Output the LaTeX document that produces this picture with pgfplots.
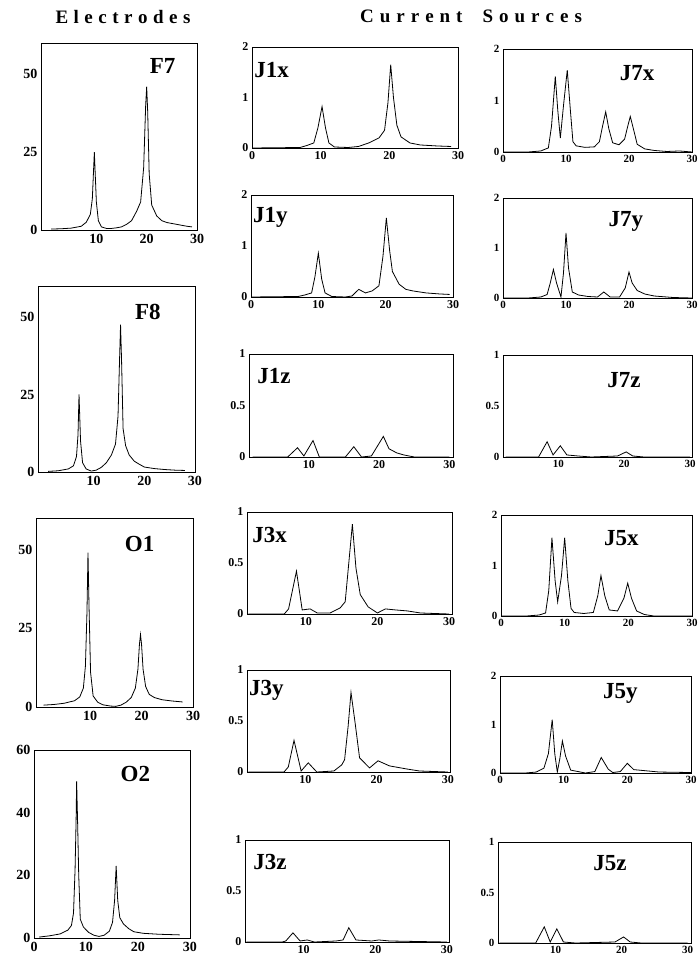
\documentclass[border=0pt]{standalone}
\usepackage{pgfplots}
\pgfplotsset{compat=1.18}
\usepackage{fontspec}
\setmainfont{Liberation Serif}
\tikzset{
  cur/.style={black, line width=0.8pt, mark=none},
  plab/.style={font=\bfseries\fontsize{23}{23}\selectfont, inner sep=0pt},
}
\pgfplotsset{
  base/.style={scale only axis, anchor=south west, clip=true,
    axis line style={line width=0.7pt},
    major tick length=0pt, tick style={draw=none},
    /pgf/number format/assume math mode=true},
  elec/.style={base, ymin=0, ymax=60, xmin=-1, xmax=30,
    xtick={10,20,30}, ytick={0,25,50},
    tick label style={font=\bfseries\fontsize{14}{14}\selectfont},
    xticklabel style={yshift=-1pt}},
  srcA/.style={base, ymin=0, ymax=2, xmin=0, xmax=30,
    xtick={0,10,20,30}, ytick={0,1,2},
    tick label style={font=\bfseries\fontsize{12}{12}\selectfont}},
  srcB/.style={base, ymin=0, ymax=1, xmin=1.7, xmax=30.4,
    xtick={10,20,30}, ytick={0,0.5,1},
    tick label style={font=\bfseries\fontsize{12}{12}\selectfont}},
  rcol/.style={tick label style={font=\bfseries\fontsize{11}{11}\selectfont}},
}
\newcommand{\ttl}{\bfseries\fontsize{19}{19}\selectfont}
\begin{document}
\begin{tikzpicture}
\useasboundingbox (0pt,0pt) rectangle (699pt,-963pt);
\node[inner sep=0pt] at (123pt,-17pt) {\ttl E\kern5.5pt l\kern5.5pt e\kern5.5pt c\kern5.5pt t\kern5.5pt r\kern5.5pt o\kern5.5pt d\kern5.5pt e\kern5.5pt s};
\node[inner sep=0pt] at (471pt,-16pt) {\ttl C\kern6pt u\kern6pt r\kern6pt r\kern6pt e\kern6pt n\kern6pt t\kern20pt S\kern6pt o\kern6pt u\kern6pt r\kern6pt c\kern6pt e\kern6pt s};

% ---------------- Electrodes ----------------
\begin{axis}[elec, at={(41pt,-230pt)}, width=156pt, height=187pt]
\addplot[cur] coordinates {(1,0.3)(3,0.4)(5,0.6)(7,1.2)(8,2.5)(8.8,5)(9.2,10)(9.6,25)(10,9)(10.4,3)(11,1)(12,0.5)(13,0.5)(14,0.7)(15,1)(16,1.8)(17,3)(18,6)(18.8,9)(19.4,20)(19.8,40)(20,46)(20.2,38)(20.5,18)(21,8)(22,4.5)(23,3)(24,2.4)(26,1.8)(28,1.2)(29,1)};
\node[plab] at (rel axis cs:0.78,0.877) {F7};
\end{axis}

\begin{axis}[elec, at={(38pt,-472pt)}, width=157pt, height=186pt]
\addplot[cur] coordinates {(1,0.2)(3,0.4)(5,1)(6,2)(6.6,5)(6.9,12)(7.1,25)(7.4,10)(7.8,3)(8.5,1)(9.5,0.3)(10.5,0.6)(11.5,1.5)(12.5,3)(13.5,5.5)(14.3,9)(14.8,18)(15.1,36)(15.3,47.5)(15.5,36)(15.8,14)(16.3,8.5)(17,5.5)(18,3.5)(19,2.5)(20,1.6)(22,1.1)(24,0.8)(26,0.6)(28,0.5)};
\node[plab] at (rel axis cs:0.70,0.86) {F8};
\end{axis}

\begin{axis}[elec, at={(36pt,-707pt)}, width=157pt, height=189pt, xmin=-0.5]
\addplot[cur] coordinates {(1,0.6)(3,0.8)(5,1.2)(7,2)(8,3.2)(8.7,6)(9.1,13)(9.4,30)(9.6,49)(9.8,32)(10.1,11)(10.6,3.5)(11.5,1.5)(12.5,0.7)(14,0.3)(15,0.2)(16,0.6)(17,1.5)(18,3)(18.8,6)(19.3,12)(19.6,20)(19.8,23)(20,20)(20.3,12)(20.8,6.5)(21.5,4)(22.5,3)(24,2.3)(26,1.9)(28,1.6)};
\node[plab] at (rel axis cs:0.66,0.86) {O1};
\end{axis}

\begin{axis}[elec, at={(34pt,-938pt)}, width=156pt, height=188pt, xmin=0, xtick={0,10,20,30}, ytick={0,20,40,60}]
\addplot[cur] coordinates {(1,0.3)(3,0.7)(5,1.3)(6.5,2.5)(7.2,4)(7.6,8)(7.9,22)(8.1,38)(8.2,50)(8.4,36)(8.6,20)(8.9,6)(9.5,3.5)(10.5,1.8)(11.5,0.9)(12.5,0.5)(13.5,0.9)(14.5,2.2)(15.1,5)(15.5,12)(15.8,23)(16.1,12)(16.5,6.5)(17.2,4.5)(18.2,3)(19.2,2)(21,1.5)(24,1.2)(28,1)};
\node[plab] at (rel axis cs:0.65,0.87) {O2};
\end{axis}

% ---------------- Current sources: middle column ----------------
\begin{axis}[srcA, at={(252pt,-148pt)}, width=206pt, height=101pt]
\addplot[cur] coordinates {(0,0)(7,0.01)(8,0.05)(9,0.1)(9.6,0.4)(10.2,0.82)(10.7,0.4)(11.2,0.1)(12,0.02)(14,0.01)(15.5,0.03)(17,0.1)(18.5,0.2)(19.3,0.35)(19.8,0.9)(20.2,1.65)(20.6,1.0)(21.1,0.45)(21.7,0.22)(23,0.1)(24.5,0.06)(27,0.04)(29,0.03)};
\node[plab, anchor=west] at (rel axis cs:0.01,0.77) {J1x};
\end{axis}

\begin{axis}[srcA, at={(251pt,-297pt)}, width=202pt, height=102pt]
\addplot[cur] coordinates {(0,0)(7,0.01)(8,0.04)(9,0.08)(9.5,0.4)(10,0.86)(10.5,0.35)(11,0.08)(12,0.01)(14,0)(15,0.02)(16,0.15)(17,0.08)(18,0.12)(19,0.22)(19.6,0.8)(20.1,1.55)(20.6,0.9)(21,0.5)(22,0.25)(23,0.15)(24,0.12)(26,0.08)(28,0.06)(29.5,0.05)};
\node[plab, anchor=west] at (rel axis cs:0.01,0.78) {J1y};
\end{axis}

\begin{axis}[srcB, at={(249pt,-457pt)}, width=204pt, height=103pt, xmin=1.5, xmax=30.5]
\addplot[cur] coordinates {(2,0)(7,0)(8.4,0.09)(9.3,0.01)(10.6,0.16)(11.5,0)(15.2,0)(16.4,0.1)(17.5,0)(18.9,0.01)(20.6,0.2)(21.4,0.08)(22.5,0.04)(23.5,0.02)(25,0)(30,0)};
\node[plab, anchor=west] at (rel axis cs:0.04,0.79) {J1z};
\end{axis}

\begin{axis}[srcB, at={(247pt,-614pt)}, width=205pt, height=102pt, xmin=1.8, xmax=30.4]
\addplot[cur] coordinates {(2,0)(7,0)(7.6,0.05)(8.7,0.42)(9.5,0.04)(10.6,0.05)(11.6,0.01)(13.4,0.01)(14.8,0.06)(15.5,0.12)(16.0,0.5)(16.5,0.88)(17.0,0.45)(17.6,0.19)(18.7,0.07)(20,0.01)(21.1,0.05)(22.5,0.04)(24.2,0.03)(26,0.01)(30,0)};
\node[plab, anchor=west] at (rel axis cs:0.025,0.77) {J3x};
\end{axis}

\begin{axis}[srcB, at={(247pt,-772pt)}, width=203pt, height=102pt, xmin=1.8, xmax=30.3]
\addplot[cur] coordinates {(2,0)(7,0)(7.6,0.05)(8.4,0.31)(9.4,0.01)(10.4,0.09)(11.6,0)(14,0.01)(15.1,0.07)(15.5,0.12)(16,0.45)(16.4,0.78)(17,0.47)(17.6,0.14)(19,0.04)(20.2,0.11)(21.8,0.06)(24.2,0.03)(26,0.01)(30,0)};
\node[plab, anchor=west] at (rel axis cs:0.01,0.80) {J3y};
\end{axis}

\begin{axis}[srcB, at={(245pt,-942pt)}, width=204pt, height=102pt, xmin=1.8, xmax=30.3]
\addplot[cur] coordinates {(2,0)(7,0)(7.5,0.01)(8.5,0.09)(9.5,0.01)(10.5,0.02)(11.5,0)(14.5,0.01)(15.5,0.02)(16.3,0.14)(17.3,0.02)(19.5,0.01)(20.5,0.02)(22,0.01)(30,0)};
\node[plab, anchor=west] at (rel axis cs:0.04,0.78) {J3z};
\end{axis}

% ---------------- Current sources: right column ----------------
\begin{axis}[srcA, rcol, at={(503pt,-152pt)}, width=189pt, height=103pt]
\addplot[cur] coordinates {(0,0)(4,0)(6,0.02)(7.2,0.08)(7.7,0.5)(8.3,1.47)(8.7,0.8)(9.1,0.27)(9.6,0.9)(10.2,1.59)(10.7,0.8)(11.1,0.2)(11.6,0.12)(13,0.09)(14.5,0.1)(15.3,0.2)(15.8,0.5)(16.3,0.78)(16.8,0.45)(17.4,0.18)(18.4,0.14)(19.3,0.25)(19.8,0.5)(20.2,0.69)(20.7,0.45)(21.3,0.15)(22.5,0.06)(24,0.03)(26,0.01)(28,0.02)(30,0)};
\node[plab] at (rel axis cs:0.71,0.77) {J7x};
\end{axis}

\begin{axis}[srcA, rcol, at={(503pt,-298pt)}, width=189pt, height=100pt]
\addplot[cur] coordinates {(0,0)(4,0)(6,0.02)(7,0.07)(7.5,0.3)(8.0,0.57)(8.5,0.3)(9.2,0.02)(9.6,0.5)(10,1.3)(10.4,0.6)(11,0.12)(12,0.06)(13.5,0.03)(15,0.02)(16,0.12)(17,0.02)(18.5,0.02)(19.4,0.2)(20,0.52)(20.5,0.3)(21.3,0.15)(22.5,0.08)(24,0.04)(27,0.01)(30,0)};
\node[plab] at (rel axis cs:0.65,0.77) {J7y};
\end{axis}

\begin{axis}[srcB, rcol, at={(503pt,-457pt)}, width=189pt, height=102pt, xmin=1.6, xmax=30.3]
\addplot[cur] coordinates {(2,0)(7,0)(8.3,0.15)(9.2,0.02)(10.3,0.11)(11.3,0.02)(13,0.01)(15,0)(19,0.01)(20.3,0.05)(21.3,0.01)(23,0)(30,0)};
\node[plab] at (rel axis cs:0.64,0.75) {J7z};
\end{axis}

\begin{axis}[srcA, rcol, at={(501pt,-616pt)}, width=191pt, height=101pt]
\addplot[cur] coordinates {(0,0)(4,0)(6,0.02)(7,0.06)(7.5,0.5)(8.0,1.55)(8.5,0.7)(8.9,0.28)(9.5,0.8)(10,1.55)(10.5,0.7)(11,0.15)(11.5,0.07)(13,0.05)(14.5,0.07)(15.2,0.4)(15.7,0.8)(16.3,0.4)(17,0.12)(18.3,0.1)(19.3,0.35)(19.9,0.65)(20.5,0.35)(21.3,0.1)(22.5,0.03)(24,0)(30,0)};
\node[plab] at (rel axis cs:0.63,0.77) {J5x};
\end{axis}

\begin{axis}[srcA, rcol, at={(500pt,-773pt)}, width=191pt, height=97pt]
\addplot[cur] coordinates {(0,0)(4,0)(5.7,0.02)(6.9,0.1)(7.6,0.4)(8.2,1.1)(8.6,0.4)(9,0.02)(9.4,0.3)(9.8,0.66)(10.3,0.35)(11.1,0.06)(13.4,0)(14.9,0.03)(15.9,0.32)(17,0.08)(17.7,0.01)(18.9,0.03)(20,0.2)(21,0.07)(22.6,0.05)(25,0.02)(30,0.01)};
\node[plab] at (rel axis cs:0.63,0.82) {J5y};
\end{axis}

\begin{axis}[srcB, rcol, at={(498pt,-943pt)}, width=193pt, height=101pt, xmin=1.3, xmax=30.5]
\addplot[cur] coordinates {(1.5,0)(7,0)(8.3,0.16)(9.2,0.01)(10.2,0.14)(11.2,0.01)(13,0)(19,0.01)(20.3,0.06)(21.3,0.01)(23,0)(30,0)};
\node[plab] at (rel axis cs:0.58,0.79) {J5z};
\end{axis}
\end{tikzpicture}
\end{document}
